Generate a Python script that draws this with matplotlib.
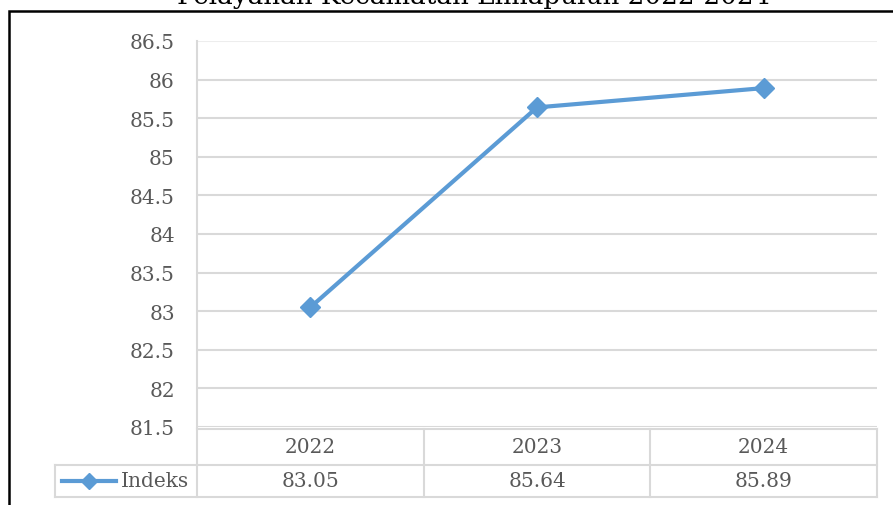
import matplotlib.pyplot as plt
from matplotlib.lines import Line2D
from matplotlib.patches import Rectangle

# data
years = ["2022", "2023", "2024"]
indeks = [83.05, 85.64, 85.89]
series_name = "Indeks"
title = "Pelayanan Kecamatan Limapuluh 2022-2024"
yticks = [81.5, 82, 82.5, 83, 83.5, 84, 84.5, 85, 85.5, 86, 86.5]

blue = "#5B9BD5"
grid_c = "#D9D9D9"
txt_c = "#595959"
font = "DejaVu Serif"

W, H = 893, 506
fig = plt.figure(figsize=(W / 100, H / 100), dpi=100)

# plot area in pixels: x 197..877, y 42..428
ax = fig.add_axes([197 / W, 1 - 428 / H, 680 / W, 386 / H])

x = list(range(len(years)))
ax.plot(x, indeks, color=blue, lw=3, marker="D", ms=10, zorder=3, clip_on=False)

ax.set_xlim(-0.5, len(years) - 0.5)
ax.set_ylim(yticks[0], yticks[-1])
ax.set_yticks(yticks)
ax.set_yticklabels([f"{t:g}" for t in yticks], fontsize=14.5, color=txt_c, family=font)
ax.set_xticks([])
ax.tick_params(axis="y", length=0, pad=16)
ax.grid(axis="y", color=grid_c, lw=1.5)
ax.set_axisbelow(True)
ax.get_ygridlines()[-1].set_color("#EDEDED")
for s in ["top", "right", "bottom"]:
    ax.spines[s].set_visible(False)
ax.spines["left"].set_color(grid_c)
ax.spines["left"].set_linewidth(1.5)

# data table under the plot (x in data units, y in axes units)
tr = ax.get_xaxis_transform()
ph = 386.0
row1_top, row1_bot = -2 / ph, -38 / ph
row2_bot = -70 / ph
left_col = -0.5 - 142 / (680 / len(years))
xmax = len(years) - 0.5

def hline(y, x0, x1):
    ax.add_line(Line2D([x0, x1], [y, y], transform=tr, color=grid_c, lw=1.5, clip_on=False))

def vline(xx, y0, y1):
    ax.add_line(Line2D([xx, xx], [y0, y1], transform=tr, color=grid_c, lw=1.5, clip_on=False))

hline(row1_top, -0.5, xmax)
hline(row1_bot, left_col, xmax)
hline(row2_bot, left_col, xmax)
for i in range(len(years) + 1):
    vline(i - 0.5, row1_top, row2_bot)
vline(left_col, row1_bot, row2_bot)

for i, (yr, v) in enumerate(zip(years, indeks)):
    ax.text(i, (row1_top + row1_bot) / 2, yr, transform=tr, ha="center", va="center",
            fontsize=14.5, color=txt_c, family=font)
    ax.text(i, (row1_bot + row2_bot) / 2, f"{v:.2f}", transform=tr, ha="center", va="center",
            fontsize=14.5, color=txt_c, family=font)

# legend key inside the table
ymid = (row1_bot + row2_bot) / 2
ax.add_line(Line2D([left_col + 0.03, left_col + 0.27], [ymid, ymid], transform=tr,
                   color=blue, lw=3, clip_on=False))
ax.add_line(Line2D([left_col + 0.15], [ymid], transform=tr, color=blue, marker="D",
                   ms=8, clip_on=False))
ax.text(left_col + 0.29, ymid, series_name, transform=tr, ha="left", va="center",
        fontsize=14.5, color=txt_c, family=font)

# outer chart frame and cut-off title
fig.patches.append(Rectangle((9 / W, -0.1), 1.1, 1 - 12 / H + 0.1, transform=fig.transFigure,
                             fill=False, ec="black", lw=1.8))
fig.text(474 / W, 1 - 4 / H, title, ha="center", va="baseline", fontsize=18.8,
         family=font, color="black")

fig.savefig("out.png", dpi=100)
